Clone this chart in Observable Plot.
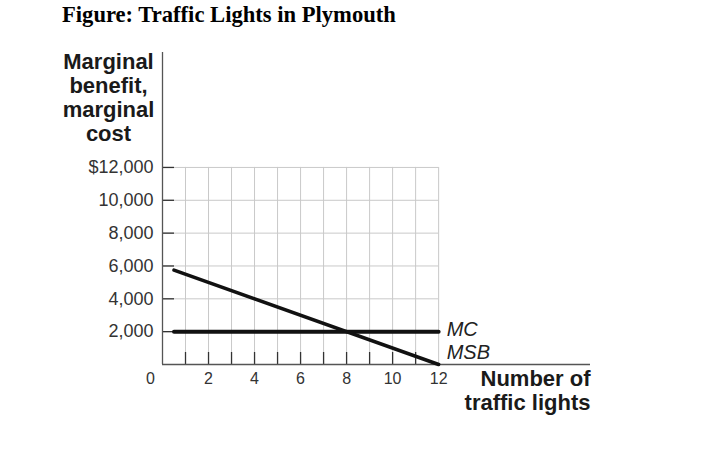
<!DOCTYPE html>
<html>
<head>
<meta charset="utf-8">
<script src="https://cdn.jsdelivr.net/npm/d3@7"></script>
<script src="https://cdn.jsdelivr.net/npm/@observablehq/plot@0.6"></script>
<style>
  html, body { margin: 0; padding: 0; background: #fff; }
  #title { font: bold 22.6px "Liberation Serif", "Times New Roman", serif; color: #000;
           line-height: 26px; padding: 2px 0 0 62px; height: 38px; box-sizing: content-box; }
  #chart svg { display: block; }
</style>
</head>
<body>
<div id="title">Figure: Traffic Lights in Plymouth</div>
<div id="chart"></div>
<script>
// ---- data ----
const lights = [0.5, 12];          // number of traffic lights (line endpoints)
const mc = [2000, 2000];           // marginal cost
const msb = [5750, 0];             // marginal social benefit
const xGrid = [1, 2, 3, 4, 5, 6, 7, 8, 9, 10, 11, 12];
const xTickMarks = [1, 2, 3, 4, 5, 6, 7, 8, 9, 10, 11];
const xTickLabels = [2, 4, 6, 8, 10, 12];
const yTicks = [2000, 4000, 6000, 8000, 10000, 12000];
const yTickLabels = ["2,000", "4,000", "6,000", "8,000", "10,000", "$12,000"];
const seriesNames = ["MC", "MSB"];
const yTitle = "Marginal\nbenefit,\nmarginal\ncost";
const xTitle = "Number of\ntraffic lights";

// ---- layout ----
const W = 716, H = 414;
const mLeft = 162, mRight = 126, mTop = 12, mBottom = 90;
const xMax = 18.6, yMax = 19000;
const pxX = (W - mLeft - mRight) / xMax;       // px per light
const pxY = (H - mTop - mBottom) / yMax;       // px per dollar
const tickLen = 12;

const mcData = lights.map((x, i) => ({x, y: mc[i]}));
const msbData = lights.map((x, i) => ({x, y: msb[i]}));

const sans = "Liberation Sans, Arial, Helvetica, sans-serif";

const chart = Plot.plot({
  width: W, height: H,
  marginLeft: mLeft, marginRight: mRight, marginTop: mTop, marginBottom: mBottom,
  style: {fontFamily: sans, background: "white", overflow: "visible"},
  x: {domain: [0, xMax]},
  y: {domain: [0, yMax]},
  marks: [
    // grid
    Plot.ruleX(xGrid, {y1: 0, y2: 12000, stroke: "#c9c9c9", strokeWidth: 1}),
    Plot.ruleY(yTicks, {x1: 0, x2: 12, stroke: "#c9c9c9", strokeWidth: 1}),
    // inward tick marks
    Plot.ruleY(yTicks, {x1: 0, x2: tickLen / pxX, stroke: "#333", strokeWidth: 1.3}),
    Plot.ruleX(xTickMarks, {y1: 0, y2: tickLen / pxY, stroke: "#333", strokeWidth: 1.3}),
    // axis lines
    Plot.ruleX([0], {y1: 0, y2: yMax, stroke: "#555", strokeWidth: 1.3}),
    Plot.ruleY([0], {x1: 0, x2: xMax, stroke: "#555", strokeWidth: 1.3}),
    // tick labels
    Plot.axisY({ticks: yTicks, tickSize: 0, tickPadding: 9, label: null,
      tickFormat: d => yTickLabels[yTicks.indexOf(d)], fontSize: 18, color: "#333"}),
    Plot.axisX({ticks: xTickLabels, tickSize: 0, tickPadding: 8, label: null,
      tickFormat: d => String(d), fontSize: 16, color: "#333"}),
    Plot.text([0], {x: 0, y: 0, text: d => String(d), dx: -12, dy: 8, lineAnchor: "top",
      fontSize: 16, fill: "#333"}),
    // curves
    Plot.line(mcData, {x: "x", y: "y", stroke: "#111", strokeWidth: 4}),
    Plot.line(msbData, {x: "x", y: "y", stroke: "#111", strokeWidth: 3.6}),
    // series labels
    Plot.text([mcData[1]], {x: "x", y: "y", text: () => seriesNames[0], dx: 8, dy: -2,
      textAnchor: "start", fontSize: 20, fontStyle: "italic", fill: "#222"}),
    Plot.text([msbData[1]], {x: "x", y: "y", text: () => seriesNames[1], dx: 8, dy: -12,
      textAnchor: "start", fontSize: 20, fontStyle: "italic", fill: "#222"}),
    // axis titles
    Plot.text([yTitle], {frameAnchor: "top-left", dx: -54, dy: -1, lineAnchor: "top",
      textAnchor: "middle", fontSize: 22, fontWeight: "bold", lineHeight: 1.1, fill: "#1a1a1a"}),
    Plot.text([xTitle], {frameAnchor: "bottom-right", dy: 4, lineAnchor: "top",
      textAnchor: "end", fontSize: 22, fontWeight: "bold", lineHeight: 1.1, fill: "#1a1a1a"})
  ]
});
document.getElementById("chart").append(chart);
</script>
</body>
</html>
